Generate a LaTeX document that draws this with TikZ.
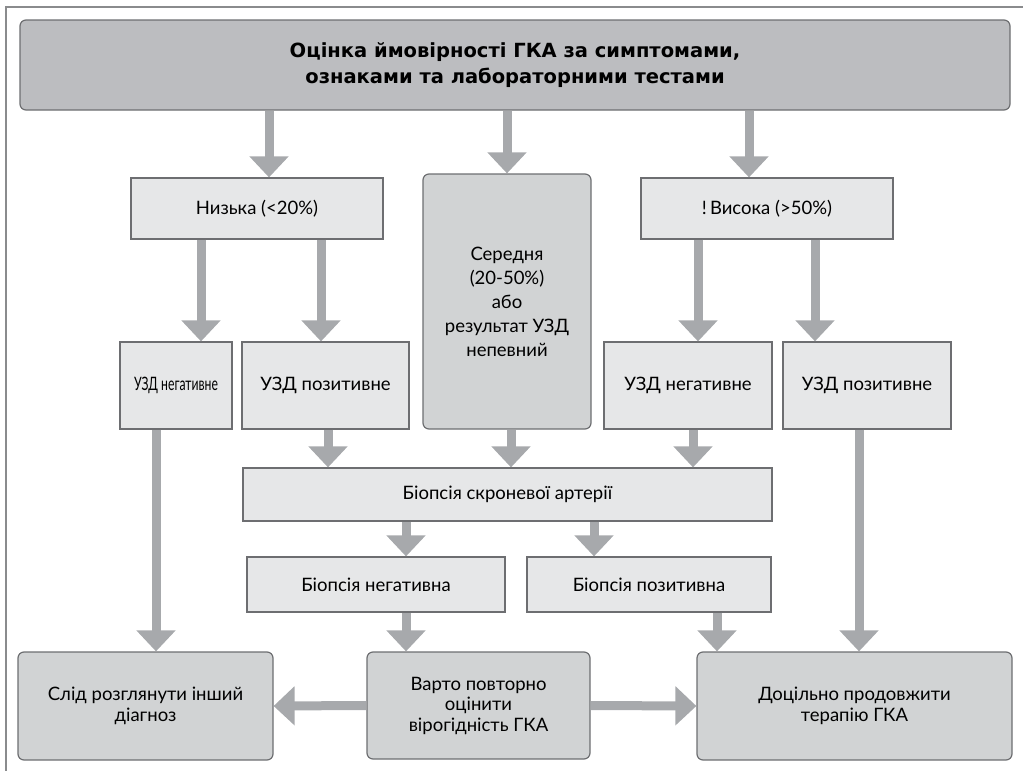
\documentclass[tikz,border=0pt]{standalone}
\usepackage{fontspec}
\usepackage{graphicx}
\setmainfont{Lato}
\newfontfamily\headfont{DejaVu Sans}
\usetikzlibrary{arrows.meta}

\definecolor{framegray}{HTML}{8A8B8D}
\definecolor{edgegray}{HTML}{6D6E71}
\definecolor{headfill}{HTML}{BCBDC0}
\definecolor{midfill}{HTML}{D1D3D4}
\definecolor{lightfill}{HTML}{E6E7E8}
\definecolor{arrowgray}{HTML}{A7A9AC}

\begin{document}
\begin{tikzpicture}[
  x=1pt, y=-1pt,
  font=\fontsize{18.5}{20.5}\selectfont,
  flat/.style={draw=edgegray, line width=1.2pt, fill=lightfill, inner sep=2pt, align=center},
  soft/.style={flat, fill=midfill, rounded corners=6pt},
  arr/.style={draw=arrowgray, line width=9pt, -{Triangle[length=21pt, width=38pt]}}
]
  \useasboundingbox (0,0) rectangle (1023,771);
  \draw[framegray, line width=1.2pt] (1023,7) -- (6,7) -- (6,771);

  % assessment
  \node[soft, fill=headfill, minimum width=990pt, minimum height=90pt,
        font=\headfont\fontsize{19.5}{26}\selectfont\bfseries] (gca) at (515,65)
        {Оцінка ймовірності ГКА за симптомами,\\ознаками та лабораторними тестами};

  % probability
  \node[flat, minimum width=252pt, minimum height=61pt] (low) at (257,208.5) {Низька (<20\%)};
  \node[soft, minimum width=168pt, minimum height=255pt, font=\fontsize{18.5}{24}\selectfont] (mid) at (507,301.5)
        {Середня\\(20-50\%)\\або\\результат УЗД\\непевний};
  \node[flat, minimum width=252pt, minimum height=61pt] (high) at (767,208.5) {!\,Висока (>50\%)};

  % ultrasound
  \node[flat, minimum width=112pt, minimum height=87pt] (usnegL) at (176,385.5) {\scalebox{0.66}[1]{УЗД негативне}};
  \node[flat, minimum width=167pt, minimum height=87pt] (usposL) at (325.5,385.5) {УЗД позитивне};
  \node[flat, minimum width=168pt, minimum height=87pt] (usnegR) at (688,385.5) {УЗД негативне};
  \node[flat, minimum width=168pt, minimum height=87pt] (usposR) at (867,385.5) {УЗД позитивне};

  % biopsy
  \node[flat, minimum width=529pt, minimum height=53pt] (biopsy) at (507.5,494.5) {Біопсія скроневої артерії};
  \node[flat, minimum width=258pt, minimum height=55pt] (bneg) at (376,584.5) {Біопсія негативна};
  \node[flat, minimum width=244pt, minimum height=55pt] (bpos) at (649,584.5) {Біопсія позитивна};

  % outcome
  \node[soft, minimum width=255pt, minimum height=108pt] (other) at (145.5,706) {Слід розглянути інший\\діагноз};
  \node[soft, minimum width=223pt, minimum height=107pt] (reval) at (478.5,705.5) {Варто повторно\\оцінити\\вірогідність ГКА};
  \node[soft, minimum width=315pt, minimum height=108pt] (cont) at (854.5,706) {Доцільно продовжити\\терапію ГКА};

  \foreach \a/\b/\x in {gca/low/269, gca/mid/507, gca/high/749,
                        low/usnegL/201, low/usposL/321, high/usnegR/698, high/usposR/815,
                        usposL/biopsy/328, mid/biopsy/511, usnegR/biopsy/693,
                        biopsy/bneg/406, biopsy/bpos/594,
                        usnegL/other/156, bneg/reval/406, bpos/cont/717, usposR/cont/859}
    \draw[arr] (\a.south -| \x,0) -- (\b.north -| \x,0);

  \draw[arr] (reval.west) -- (other.east);
  \draw[arr] (reval.east) -- (cont.west);
\end{tikzpicture}
\end{document}
